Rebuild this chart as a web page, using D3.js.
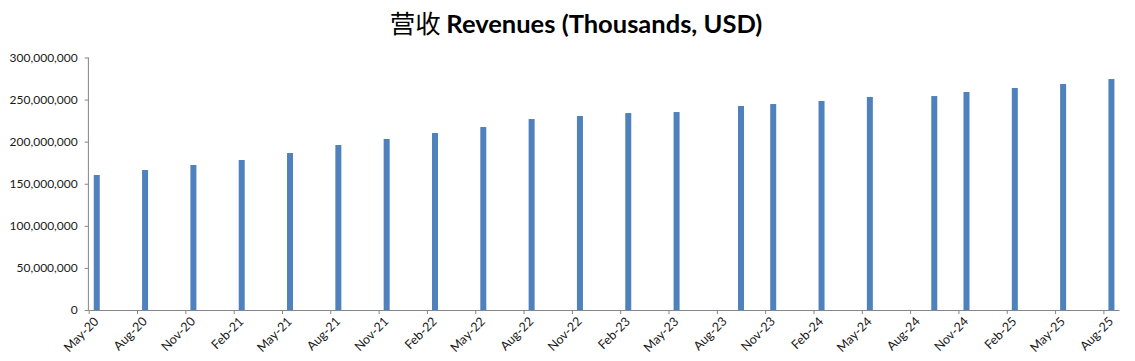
<!DOCTYPE html>
<html>
<head>
<meta charset="utf-8">
<script src="https://cdn.jsdelivr.net/npm/d3@7"></script>
<style>
  html, body { margin: 0; padding: 0; background: #fff; }
  svg { display: block; }
</style>
</head>
<body>
<svg id="chart" width="1135" height="361"></svg>
<script>
// ---- data ----
const periods = ["May-20","Aug-20","Nov-20","Feb-21","May-21","Aug-21","Nov-21","Feb-22","May-22","Aug-22","Nov-22","Feb-23","May-23","Sep-23","Nov-23","Feb-24","May-24","Sep-24","Nov-24","Feb-25","May-25","Aug-25"];
const revenues = [160400000,166300000,172300000,178200000,186500000,196000000,203200000,210300000,217400000,226900000,230500000,234000000,235200000,242400000,244700000,248300000,253100000,254200000,259000000,263800000,268500000,274400000];
const xTickLabels = ["May-20","Aug-20","Nov-20","Feb-21","May-21","Aug-21","Nov-21","Feb-22","May-22","Aug-22","Nov-22","Feb-23","May-23","Aug-23","Nov-23","Feb-24","May-24","Aug-24","Nov-24","Feb-25","May-25","Aug-25"];
const yTicks = [0,50000000,100000000,150000000,200000000,250000000,300000000];
const titleCn = "营收";
const titleEn = "Revenues (Thousands, USD)";

// ---- layout ----
const svg = d3.select("#chart");
const pLeft = 88.7, pRight = 1119.5, pTop = 57.5, pBottom = 310;
const parse = d3.timeParse("%b-%y");
const mIdx = s => { const d = parse(s); return d.getFullYear() * 12 + d.getMonth(); };

const x = d3.scaleLinear()
  .domain([mIdx(xTickLabels[0]), mIdx(xTickLabels[xTickLabels.length - 1]) + 1])
  .range([pLeft, pRight]);
const y = d3.scaleLinear().domain([0, 300000000]).range([pBottom, pTop]);
const slot = x(1) - x(0);
const barW = 6;

// bars
svg.append("g").selectAll("rect")
  .data(periods.map((p, i) => ({ p, v: revenues[i] })))
  .join("rect")
  .attr("x", d => x(mIdx(d.p)) + slot / 2 - barW / 2)
  .attr("y", d => y(d.v))
  .attr("width", barW)
  .attr("height", d => y(0) - y(d.v))
  .attr("fill", "#4F81BD");

// y axis
const fmt = d3.format(",");
const yAxis = svg.append("g")
  .attr("transform", `translate(${pLeft},0)`)
  .call(d3.axisLeft(y).tickValues(yTicks).tickFormat(d => fmt(d)).tickSize(4).tickPadding(7));
yAxis.select(".domain").attr("stroke", "#868686").attr("d", `M-0.3,${pTop}V${pBottom}`);
yAxis.selectAll(".tick line").attr("stroke", "#868686");
yAxis.selectAll(".tick text")
  .attr("font-family", "Lato, 'Open Sans', sans-serif")
  .attr("font-size", 12)
  .attr("fill", "#1a1a1a");

// x axis
const xAxis = svg.append("g")
  .attr("transform", `translate(0,${pBottom})`)
  .call(d3.axisBottom(x).tickValues(xTickLabels.map(mIdx)).tickFormat((d, i) => xTickLabels[i]).tickSize(4).tickSizeOuter(0));
xAxis.select(".domain").attr("stroke", "#868686").attr("d", `M${pLeft},0.5H${pRight}`);
xAxis.selectAll(".tick line").attr("stroke", "#868686");
xAxis.selectAll(".tick text")
  .attr("font-family", "Lato, 'Open Sans', sans-serif")
  .attr("font-size", 12.5)
  .attr("fill", "#1a1a1a")
  .attr("text-anchor", "end")
  .attr("dy", null)
  .attr("y", 0)
  .attr("transform", "translate(8,10) rotate(-45)")
  .attr("dominant-baseline", "middle");

// title
const title = svg.append("text")
  .attr("x", 576)
  .attr("y", 33)
  .attr("text-anchor", "middle")
  .attr("fill", "#000");
title.append("tspan")
  .attr("font-family", "'Noto Sans CJK SC', sans-serif")
  .attr("font-size", 25.5)
  .attr("font-weight", 400)
  .text(titleCn + " ");
title.append("tspan")
  .attr("font-family", "Lato, 'Open Sans', sans-serif")
  .attr("font-size", 25.5)
  .attr("font-weight", 700)
  .text(titleEn);
</script>
</body>
</html>
